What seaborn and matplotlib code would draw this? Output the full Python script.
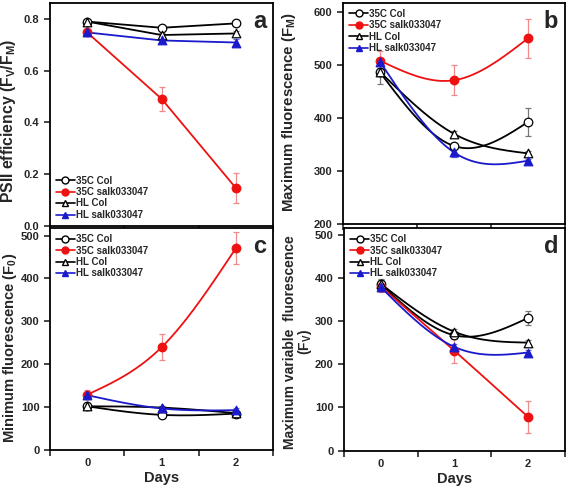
import numpy as np
import matplotlib
matplotlib.use("Agg")
import matplotlib.pyplot as plt
from matplotlib.lines import Line2D
import seaborn as sns

# ── Data ───────────────────────────────────────────────
days = [0, 1, 2]
series = ["35C Col", "35C salk033047", "HL Col", "HL salk033047"]

# panel a: PSII efficiency Fv/Fm
fvfm_35c_col = [0.790, 0.766, 0.783]
fvfm_35c_salk = [0.748, 0.491, 0.145]
fvfm_hl_col = [0.790, 0.738, 0.744]
fvfm_hl_salk = [0.748, 0.717, 0.709]
fvfm_err_35c_col = [0.008, 0.008, 0.008]
fvfm_err_35c_salk = [0.012, 0.047, 0.058]
fvfm_err_hl_col = [0.006, 0.008, 0.008]
fvfm_err_hl_salk = [0.010, 0.010, 0.013]

# panel b: maximum fluorescence Fm
fm_35c_col = [486, 347, 392]
fm_35c_salk = [508, 471, 550]
fm_hl_col = [487, 370, 333]
fm_hl_salk = [506, 335, 319]
fm_err_35c_col = [22, 5, 27]
fm_err_35c_salk = [19, 28, 37]
fm_err_hl_col = [8, 5, 5]
fm_err_hl_salk = [6, 8, 4]

# panel c: minimum fluorescence F0
f0_35c_col = [101, 81, 84]
f0_35c_salk = [128, 239, 471]
f0_hl_col = [101, 98, 85]
f0_hl_salk = [127, 96, 92]
f0_err_35c_col = [3, 3, 3]
f0_err_35c_salk = [10, 30, 37]
f0_err_hl_col = [3, 3, 3]
f0_err_hl_salk = [8, 5, 5]

# panel d: maximum variable fluorescence Fv
fv_35c_col = [385, 267, 307]
fv_35c_salk = [380, 231, 78]
fv_hl_col = [386, 275, 250]
fv_hl_salk = [378, 240, 227]
fv_err_35c_col = [12, 8, 17]
fv_err_35c_salk = [12, 28, 37]
fv_err_hl_col = [8, 6, 5]
fv_err_hl_salk = [8, 6, 5]

# ── Style ──────────────────────────────────────────────
sns.set_theme(style="ticks")
plt.rcParams["font.family"] = ["Liberation Sans", "DejaVu Sans"]
plt.rcParams["font.weight"] = "bold"
plt.rcParams["mathtext.fontset"] = "custom"
plt.rcParams["mathtext.rm"] = "Liberation Sans:bold"
plt.rcParams["mathtext.it"] = "Liberation Sans:bold"
plt.rcParams["mathtext.default"] = "rm"

styles = {
    "35C Col": dict(color="black", marker="o", mfc="white", ecol="#777777"),
    "35C salk033047": dict(color="#ee1111", marker="o", mfc="#ee1111", ecol="#f08a8a"),
    "HL Col": dict(color="black", marker="^", mfc="white", ecol="#777777"),
    "HL salk033047": dict(color="#1a1acc", marker="^", mfc="#1a1acc", ecol="#6a6ad8"),
}


def natural_spline(x, y, n=80):
    # smooth curve through the points (as the original plotting program did)
    x = np.asarray(x, float)
    y = np.asarray(y, float)
    k = len(x)
    h = np.diff(x)
    A = np.zeros((k, k))
    r = np.zeros(k)
    A[0, 0] = A[-1, -1] = 1
    for i in range(1, k - 1):
        A[i, i - 1] = h[i - 1]
        A[i, i] = 2 * (h[i - 1] + h[i])
        A[i, i + 1] = h[i]
        r[i] = 6 * ((y[i + 1] - y[i]) / h[i] - (y[i] - y[i - 1]) / h[i - 1])
    M = np.linalg.solve(A, r)
    xs, ys = [], []
    for i in range(k - 1):
        t = np.linspace(x[i], x[i + 1], n)
        a = x[i + 1] - t
        b = t - x[i]
        s = (M[i] * a**3 + M[i + 1] * b**3) / (6 * h[i]) \
            + (y[i] / h[i] - M[i] * h[i] / 6) * a \
            + (y[i + 1] / h[i] - M[i + 1] * h[i] / 6) * b
        xs.append(t)
        ys.append(s)
    return np.concatenate(xs), np.concatenate(ys)


def draw_panel(ax, values, errors, smooth):
    for name, v, e in zip(series, values, errors):
        st = styles[name]
        if smooth:
            cx, cy = natural_spline(days, v)
        else:
            cx, cy = days, v
        ax.plot(cx, cy, color=st["color"], lw=1.3, zorder=2)
        ax.errorbar(days, v, yerr=e, fmt="none", ecolor=st["ecol"],
                    elinewidth=0.9, capsize=2, capthick=0.9, zorder=1)
        sns.scatterplot(x=days, y=v, ax=ax, marker=st["marker"], s=38,
                        color=st["mfc"], edgecolor=st["color"], linewidth=0.9,
                        zorder=3, legend=False)
    ax.set_xlim(-0.5, 2.5)
    ax.set_xticks([-0.5, 0.5, 1.5, 2.5])
    ax.set_xticklabels([])
    ax.set_xticks(days, minor=True)
    ax.tick_params(axis="x", which="minor", length=0, labelsize=8, pad=6)
    ax.tick_params(axis="both", which="major", direction="out", length=4,
                   width=1.2, labelsize=8)
    for sp in ax.spines.values():
        sp.set_linewidth(1.3)
        sp.set_color("black")


def add_legend(ax, loc, anchor):
    handles = []
    for name in series:
        st = styles[name]
        handles.append(Line2D([], [], color=st["color"], marker=st["marker"],
                              mfc=st["mfc"], mec=st["color"], ms=5, lw=1.2))
    ax.legend(handles, series, loc=loc, bbox_to_anchor=anchor, frameon=False,
              handlelength=2.0, handletextpad=0.1,
              labelspacing=0.15, borderaxespad=0.2,
              prop={"weight": "bold", "size": 7})


fig = plt.figure(figsize=(5.67, 4.94), dpi=100)
ax_a = fig.add_axes([0.088, 0.543, 0.394, 0.451])
ax_b = fig.add_axes([0.605, 0.547, 0.391, 0.447])
ax_c = fig.add_axes([0.088, 0.090, 0.394, 0.448])
ax_d = fig.add_axes([0.607, 0.088, 0.389, 0.450])

# a
draw_panel(ax_a, [fvfm_35c_col, fvfm_35c_salk, fvfm_hl_col, fvfm_hl_salk],
           [fvfm_err_35c_col, fvfm_err_35c_salk, fvfm_err_hl_col, fvfm_err_hl_salk],
           smooth=False)
ax_a.set_ylim(0, 0.862)
ax_a.set_yticks([0.0, 0.2, 0.4, 0.6, 0.8])
ax_a.set_yticklabels(["0.0", "0.2", "0.4", "0.6", "0.8"])
ax_a.set_ylabel("PSII efficiency (F$_V$/F$_M$)", fontsize=11.3, fontweight="bold")
ax_a.yaxis.set_label_coords(-0.143, 0.47)
add_legend(ax_a, "lower left", (0.0, 0.0))

# b
draw_panel(ax_b, [fm_35c_col, fm_35c_salk, fm_hl_col, fm_hl_salk],
           [fm_err_35c_col, fm_err_35c_salk, fm_err_hl_col, fm_err_hl_salk],
           smooth=True)
ax_b.set_ylim(200, 617)
ax_b.set_yticks([200, 300, 400, 500, 600])
ax_b.set_ylabel("Maximum fluorescence (F$_M$)", fontsize=10.8, fontweight="bold")
ax_b.yaxis.set_label_coords(-0.205, 0.505)
add_legend(ax_b, "upper left", (0.0, 1.0))

# c
draw_panel(ax_c, [f0_35c_col, f0_35c_salk, f0_hl_col, f0_hl_salk],
           [f0_err_35c_col, f0_err_35c_salk, f0_err_hl_col, f0_err_hl_salk],
           smooth=True)
ax_c.set_ylim(0, 517)
ax_c.set_yticks([0, 100, 200, 300, 400, 500])
ax_c.set_ylabel("Minimum fluorescence (F$_0$)", fontsize=10.6, fontweight="bold")
ax_c.yaxis.set_label_coords(-0.138, 0.46)
ax_c.set_xticklabels(["0", "1", "2"], minor=True, fontweight="bold")
ax_c.set_xlabel("Days", fontsize=10.5, fontweight="bold", labelpad=2)
add_legend(ax_c, "upper left", (0.0, 1.0))

# d
draw_panel(ax_d, [fv_35c_col, fv_35c_salk, fv_hl_col, fv_hl_salk],
           [fv_err_35c_col, fv_err_35c_salk, fv_err_hl_col, fv_err_hl_salk],
           smooth=True)
ax_d.set_ylim(0, 515)
ax_d.set_yticks([0, 100, 200, 300, 400, 500])
ax_d.set_ylabel("Maximum variable  fluorescence\n(F$_V$)", fontsize=10,
                fontweight="bold", linespacing=0.95)
ax_d.yaxis.set_label_coords(-0.135, 0.486)
ax_d.set_xticklabels(["0", "1", "2"], minor=True, fontweight="bold")
ax_d.set_xlabel("Days", fontsize=10.5, fontweight="bold", labelpad=2)
add_legend(ax_d, "upper left", (0.0, 1.0))

for ax, letter in zip([ax_a, ax_b, ax_c, ax_d], "abcd"):
    ax.text(0.97, 0.97, letter, transform=ax.transAxes, ha="right", va="top",
            fontsize=17, fontweight="bold")
    for lab in ax.get_yticklabels():
        lab.set_fontweight("bold")

fig.savefig("out.png", dpi=100)
